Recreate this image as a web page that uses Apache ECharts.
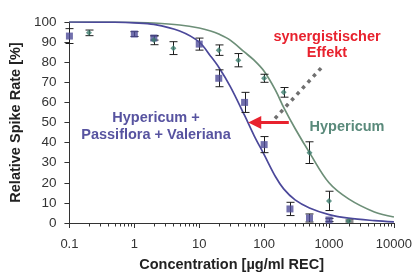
<!DOCTYPE html>
<html><head><meta charset="utf-8">
<script src="https://cdn.jsdelivr.net/npm/echarts@6/dist/echarts.min.js"></script>
<style>html,body{margin:0;padding:0;background:#fff}#c{width:415px;height:277px}</style>
</head><body><div id="c"></div>
<script>
// ---- data ----
const xMajorTicks = [0.1, 1, 10, 100, 1000, 10000];
const xMinorTicks = [0.2,0.3,0.4,0.5,0.6,0.7,0.8,0.9, 2,3,4,5,6,7,8,9, 20,30,40,50,60,70,80,90,
                     200,300,400,500,600,700,800,900, 2000,3000,4000,5000,6000,7000,8000,9000];
// Hypericum + Passiflora + Valeriana (squares)
const comboX   = [0.1, 1, 2, 10, 20, 50, 100, 250, 500, 1000];
const comboY   = [93, 94, 92, 89, 72, 60, 39, 7, 2.5, 1.5];
const comboErr = [3.7, 1.2, 1, 3, 4.2, 5, 4, 3.3, 2, 0.8];
// Hypericum alone (diamonds)
const hypX   = [0.2, 2, 4, 20, 40, 100, 200, 500, 1000, 2000];
const hypY   = [94.6, 91, 87, 86, 81, 72, 65, 35, 11, 1];
const hypErr = [1.4, 2.3, 3.2, 2.6, 3.3, 2, 2.4, 5.4, 4.8, 0.5];
// fitted curves
const curveX     = [0.1, 0.5, 1, 2, 5, 10, 15, 20, 30, 50, 70, 100, 150, 200, 300, 500, 1000, 2000, 5000, 10000];
const comboCurve = [100, 99.9, 99.6, 98.8, 95.5, 90, 83, 77.5, 68, 53.5, 43.5, 34, 23, 17, 11.5, 7.5, 4.2, 2.4, 1.2, 0.6];
const hypCurve   = [100, 100, 99.8, 99.5, 98.5, 97, 95.5, 94, 91, 85, 81, 75.5, 66, 57.5, 47, 35, 20, 12, 5.5, 3];
// annotations (data coordinates)
const arrowY = 50, arrowTailX = 240, arrowTipX = 57;
const dotFrom = [147, 52], dotTo = [800, 78];

const FONT = '"Liberation Sans", Arial, sans-serif';
const BLUE = '#4b489a', GREEN = '#6d8f78';

function zip(xs, ys) { return xs.map((x, i) => [x, ys[i]]); }
function errData(xs, ys, es) { return xs.map((x, i) => [x, ys[i] - es[i], ys[i] + es[i]]); }
function errRender(params, api) {
  const x = api.value(0);
  const lo = api.coord([x, api.value(1)]);
  const hi = api.coord([x, api.value(2)]);
  const w = 4, st = { stroke: '#1e1e1e', lineWidth: 1 };
  const cx = Math.round(lo[0]) + 0.5;
  return { type: 'group', children: [
    { type: 'line', shape: { x1: cx, y1: lo[1], x2: cx, y2: hi[1] }, style: st },
    { type: 'line', shape: { x1: cx - w, y1: lo[1], x2: cx + w, y2: lo[1] }, style: st },
    { type: 'line', shape: { x1: cx - w, y1: hi[1], x2: cx + w, y2: hi[1] }, style: st }
  ]};
}
function minorTickRender(params, api) {
  const p = api.coord([api.value(0), 0]);
  const cx = Math.round(p[0]) + 0.5;
  return { type: 'line', shape: { x1: cx, y1: p[1], x2: cx, y2: p[1] + 3.5 },
           style: { stroke: '#333', lineWidth: 1 } };
}

const chart = echarts.init(document.getElementById('c'), null, { renderer: 'canvas' });
chart.setOption({
  animation: false,
  textStyle: { fontFamily: FONT },
  grid: { left: 62, right: 20, top: 22, bottom: 46 },
  xAxis: {
    type: 'log', logBase: 10, min: 0.1, max: 10000, position: 'bottom',
    name: 'Concentration [µg/ml REC]', nameLocation: 'middle', nameGap: 34,
    nameTextStyle: { fontSize: 14.5, fontWeight: 'bold', color: '#222', fontFamily: FONT },
    axisLine: { lineStyle: { color: '#333', width: 1 } },
    axisTick: { length: 5, lineStyle: { color: '#333' }, customValues: xMajorTicks },
    axisLabel: { fontSize: 13, color: '#333', margin: 15, customValues: xMajorTicks, fontFamily: FONT,
                 formatter: v => String(+v) },
    splitLine: { show: false }
  },
  yAxis: {
    type: 'value', min: 0, max: 100, interval: 10,
    name: 'Relative Spike Rate [%]', nameLocation: 'middle', nameGap: 37,
    nameTextStyle: { fontSize: 14.5, fontWeight: 'bold', color: '#222', fontFamily: FONT },
    axisLine: { show: true, lineStyle: { color: '#333', width: 1 } },
    axisTick: { show: true, length: 5, lineStyle: { color: '#333' } },
    axisLabel: { fontSize: 13.5, color: '#333', margin: 13, fontFamily: FONT },
    splitLine: { show: false }
  },
  series: [
    { type: 'custom', renderItem: minorTickRender, data: xMinorTicks.map(v => [v, 0]),
      encode: { x: 0, y: 1 }, clip: false, silent: true, z: 1 },
    { type: 'line', data: zip(curveX, hypCurve), smooth: 0.35, showSymbol: false,
      lineStyle: { color: GREEN, width: 1.7 }, z: 2 },
    { type: 'line', data: zip(curveX, comboCurve), smooth: 0.35, showSymbol: false,
      lineStyle: { color: BLUE, width: 1.7 }, z: 2 },
    { type: 'custom', renderItem: errRender, data: errData(hypX, hypY, hypErr),
      encode: { x: 0, y: [1, 2] }, z: 3 },
    { type: 'custom', renderItem: errRender, data: errData(comboX, comboY, comboErr),
      encode: { x: 0, y: [1, 2] }, z: 3 },
    { type: 'scatter', data: zip(comboX, comboY), symbol: 'rect', symbolSize: 7,
      itemStyle: { color: '#4f4c98' }, z: 4 },
    { type: 'scatter', data: zip(hypX, hypY), symbol: 'diamond', symbolSize: 6,
      itemStyle: { color: '#3d7d6e' }, z: 5 }
  ]
});

// annotations positioned via the chart's own scales
const px = p => chart.convertToPixel({ gridIndex: 0 }, p);
const tail = px([arrowTailX, arrowY]), tip = px([arrowTipX, arrowY]);
const d0 = px(dotFrom), d1 = px(dotTo);
const RED = '#e8222e';
chart.setOption({
  graphic: [
    { type: 'line', shape: { x1: d0[0], y1: d0[1], x2: d1[0], y2: d1[1] },
      style: { stroke: '#707070', lineWidth: 3.5, lineDash: [3.5, 4.6], lineCap: 'butt' }, z: 10 },
    { type: 'line', shape: { x1: tail[0], y1: tail[1], x2: tip[0] + 11, y2: tip[1] },
      style: { stroke: RED, lineWidth: 3 }, z: 11 },
    { type: 'polygon', shape: { points: [[tip[0], tip[1]], [tip[0] + 13, tip[1] - 6.5], [tip[0] + 13, tip[1] + 6.5]] },
      style: { fill: RED }, z: 11 },
    { type: 'text', x: 327, y: 45, z: 12,
      style: { text: 'synergistischer\nEffekt', fill: RED, font: 'bold 14.5px ' + FONT,
               align: 'center', verticalAlign: 'middle', lineHeight: 16 } },
    { type: 'text', x: 347, y: 126.5, z: 12,
      style: { text: 'Hypericum', fill: '#5a8a7b', font: 'bold 14.5px ' + FONT,
               align: 'center', verticalAlign: 'middle' } },
    { type: 'text', x: 156, y: 126.5, z: 12,
      style: { text: 'Hypericum +\nPassiflora + Valeriana', fill: '#5753a0', font: 'bold 14.5px ' + FONT,
               align: 'center', verticalAlign: 'middle', lineHeight: 17 } }
  ]
});
</script>
</body></html>
